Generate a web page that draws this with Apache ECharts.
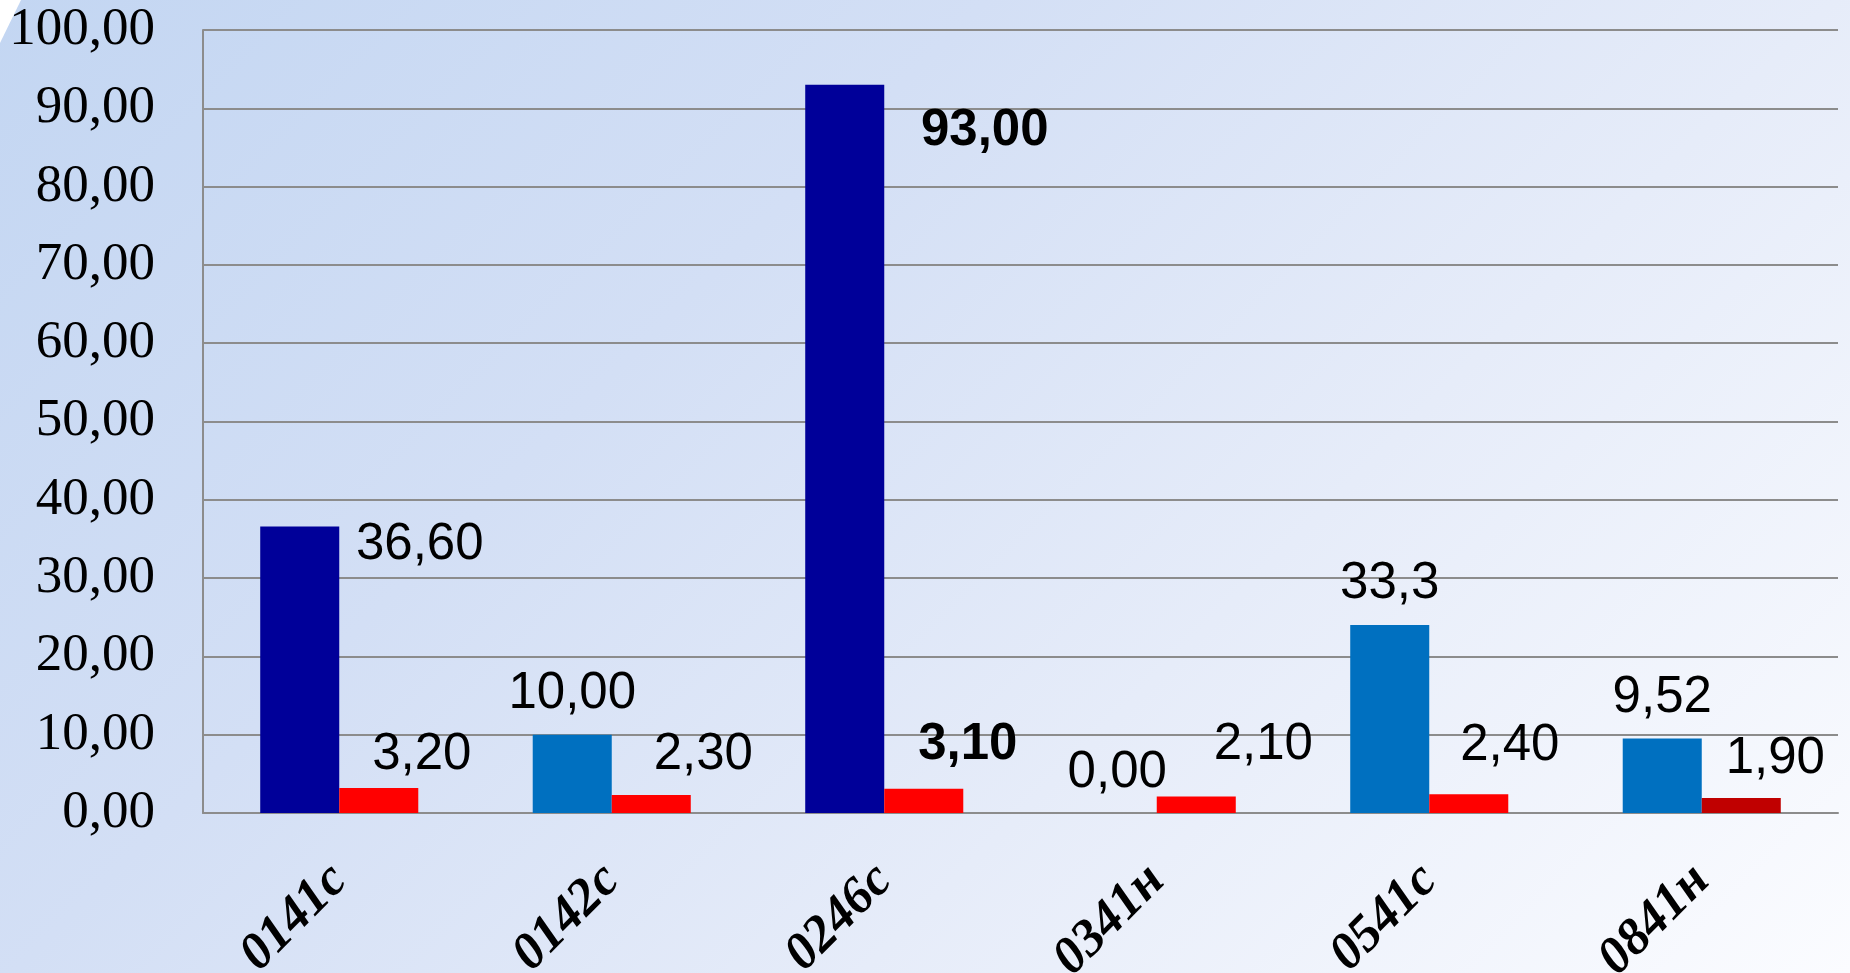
<!DOCTYPE html>
<html>
<head>
<meta charset="utf-8">
<script src="https://cdn.jsdelivr.net/npm/echarts@6/dist/echarts.min.js"></script>
<style>
html,body{margin:0;padding:0;width:1850px;height:973px;overflow:hidden;}
body{background:linear-gradient(135deg,#C3D6F2 0%,#D3DFF5 35%,#E6ECF9 65%,#FBFCFF 100%);}
#c{width:1850px;height:973px;}
</style>
</head>
<body>
<div id="c"></div>
<script>
const categories = ['0141с','0142с','0246с','0341н','0541с','0841н'];
const seriesA = [36.6, 10.0, 93.0, 0.0, 24.0, 9.52];
const seriesALabels = ['36,60','10,00','93,00','0,00','33,3','9,52'];
const seriesB = [3.2, 2.3, 3.1, 2.1, 2.4, 1.9];
const seriesBLabels = ['3,20','2,30','3,10','2,10','2,40','1,90'];
const yTicks = [0,10,20,30,40,50,60,70,80,90,100];

const colorsA = ['#000099','#0070C0','#000099','#0070C0','#0070C0','#0070C0'];
const colorsB = ['#FF0000','#FF0000','#FF0000','#FF0000','#FF0000','#C00000'];
const offsetsA = [[120,59],[0,0],[140,87],[0,0],[0,-1],[0,0]];
const offsetsB = [[43,7],[52,0],[44,-3],[67,-11],[41,-8],[34,1]];
const boldA = [false,false,true,false,false,false];
const boldB = [false,false,true,false,false,false];

const labelBase = {show:true, position:'top', distance:15, color:'#000', fontFamily:'Liberation Sans', fontSize:51};

const chart = echarts.init(document.getElementById('c'), null, {renderer:'canvas'});
chart.setOption({
  backgroundColor:'transparent',
  animation:false,
  graphic:[{type:'polygon', left:0, top:0, shape:{points:[[0,0],[21,0],[0,43]]}, style:{fill:'#ffffff'}}],
  grid:{left:203, right:12, top:30, bottom:160, containLabel:false, outerBoundsMode:'none'},
  xAxis:{
    type:'category', data:categories,
    axisLine:{show:true, lineStyle:{color:'#8c8c8c', width:2}},
    axisTick:{show:false},
    axisLabel:{rotate:45, margin:60, color:'#000', fontFamily:'Liberation Serif', fontStyle:'italic', fontWeight:'bold', fontSize:52, interval:0}
  },
  yAxis:{
    type:'value', min:yTicks[0], max:yTicks[yTicks.length-1], interval:10,
    axisLine:{show:true, lineStyle:{color:'#8c8c8c', width:2}},
    axisTick:{show:false},
    splitLine:{show:true, lineStyle:{color:'#8c8c8c', width:2}},
    axisLabel:{margin:48, color:'#000', fontFamily:'Liberation Serif', fontSize:53,
      formatter:v=>v.toFixed(2).replace('.',',')}
  },
  series:[
    {type:'bar', barGap:'0%', barCategoryGap:'42%',
     data:seriesA.map((v,i)=>({value:v, itemStyle:{color:colorsA[i]},
       label:Object.assign({}, labelBase, {offset:offsetsA[i], fontWeight:boldA[i]?'bold':'normal', formatter:seriesALabels[i]})}))},
    {type:'bar', barGap:'0%', barCategoryGap:'42%',
     data:seriesB.map((v,i)=>({value:v, itemStyle:{color:colorsB[i]},
       label:Object.assign({}, labelBase, {offset:offsetsB[i], fontWeight:boldB[i]?'bold':'normal', formatter:seriesBLabels[i]})}))}
  ]
});
</script>
</body>
</html>
